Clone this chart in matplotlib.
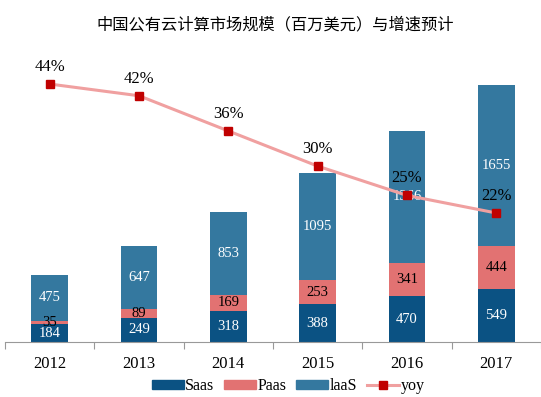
import matplotlib
matplotlib.use("Agg")
import matplotlib.pyplot as plt
from matplotlib.lines import Line2D
from matplotlib.patches import Patch

years = ["2012", "2013", "2014", "2015", "2016", "2017"]
saas = [184, 249, 318, 388, 470, 549]
paas = [35, 89, 169, 253, 341, 444]
iaas = [475, 647, 853, 1095, 1366, 1655]
yoy = [44, 42, 36, 30, 25, 22]

c_saas = "#0b5283"
c_paas = "#e27272"
c_iaas = "#34789f"

plt.rcParams["font.family"] = ["Liberation Serif", "Noto Sans CJK SC"]

fig = plt.figure(figsize=(5.41, 3.97), dpi=100)
ax = fig.add_axes([5 / 541, (397 - 342) / 397, 536 / 541, 282 / 397])
x = list(range(len(years)))
w = 0.41
b1 = ax.bar(x, saas, w, color=c_saas)
b2 = ax.bar(x, paas, w, bottom=saas, color=c_paas)
bot3 = [s + p for s, p in zip(saas, paas)]
b3 = ax.bar(x, iaas, w, bottom=bot3, color=c_iaas)

for i in x:
    ax.text(i, saas[i] / 2, str(saas[i]), ha="center", va="center", color="white", fontsize=10.5)
    ax.text(i, saas[i] + paas[i] / 2, str(paas[i]), ha="center", va="center", color="black", fontsize=10.5)
    ax.text(i, bot3[i] + iaas[i] / 2, str(iaas[i]), ha="center", va="center", color="white", fontsize=10.5)

ax.set_xlim(-0.5, 5.43)
ax.set_ylim(0, 2904)
ax.set_xticks([i + 0.5 for i in range(-1, 6)], minor=False)
ax.set_xticklabels([])
ax.tick_params(axis="x", length=5, color="#999999", direction="out")
for i, y in enumerate(years):
    ax.text(i, -145, y, ha="center", va="top", fontsize=12)
ax.set_yticks([])
for s in ["top", "right", "left"]:
    ax.spines[s].set_visible(False)
ax.spines["bottom"].set_color("#999999")

ax2 = ax.twinx()
ax2.plot(x, yoy, color="#f0a0a0", lw=2.2, marker="s", ms=6,
         markerfacecolor="#c00000", markeredgecolor="#c00000")
ax2.set_ylim(0, 48.1)
ax2.set_yticks([])
for s in ["top", "right", "left", "bottom"]:
    ax2.spines[s].set_visible(False)
for i in x:
    ax2.text(i, yoy[i] + 2.9, f"{yoy[i]}%", ha="center", va="center", fontsize=12)

fig.text(0.508, 0.937, "中国公有云计算市场规模（百万美元）与增速预计", ha="center", va="center",
         fontsize=11.7, family=["Noto Sans CJK SC", "DejaVu Sans"])

handles = [Patch(color=c_saas), Patch(color=c_paas), Patch(color=c_iaas),
           Line2D([], [], color="#f0a0a0", lw=2.2, marker="s", ms=6,
                  markerfacecolor="#c00000", markeredgecolor="#c00000")]
fig.legend(handles, ["Saas", "Paas", "laaS", "yoy"], loc="center", bbox_to_anchor=(288 / 541, 1 - 386 / 397),
           ncol=4, frameon=False, fontsize=11.5, handlelength=2.0, handleheight=0.55,
           columnspacing=0.6, handletextpad=0.1)

fig.savefig("out.png", dpi=100)
